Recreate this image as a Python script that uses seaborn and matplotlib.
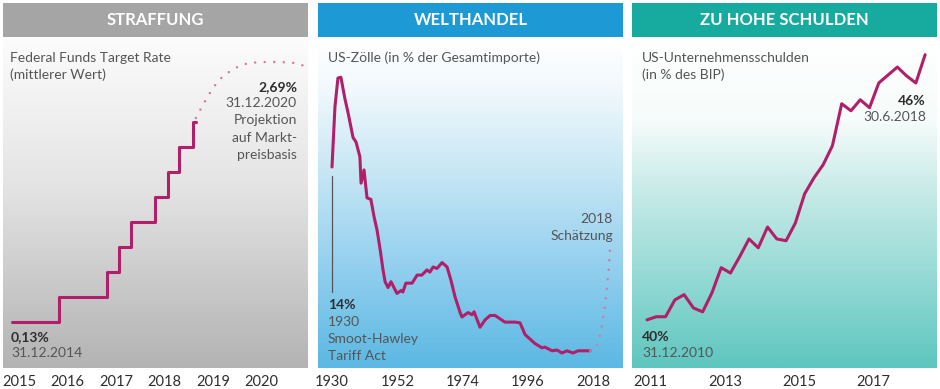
"""
Drei Risiko-Panels: Straffung, Welthandel, zu hohe Schulden.
"""

import matplotlib.pyplot as plt
import numpy as np
import seaborn as sns
from matplotlib.colors import LinearSegmentedColormap

# --- Daten -----------------------------------------------------------------

# Federal Funds Target Rate (Mittelwert), Stufen
fed_dates = [2015.0, 2015.96, 2016.96, 2017.2, 2017.45, 2017.95,
             2018.22, 2018.45, 2018.74, 2018.8]
fed_rates = [0.125, 0.375, 0.625, 0.875, 1.125, 1.375,
             1.625, 1.875, 2.125, 2.125]

# Projektion auf Marktpreisbasis
fed_proj_dates = [2018.79, 2018.96, 2019.14, 2019.35, 2019.6, 2019.87,
                  2020.18, 2020.53, 2020.84, 2021.0]
fed_proj_rates = [2.165, 2.315, 2.465, 2.585, 2.665, 2.715,
                  2.725, 2.725, 2.715, 2.69]

# US-Zölle in % der Gesamtimporte
tariff_years = [1930, 1931, 1932, 1933, 1934.4, 1935.4, 1937.1, 1938.1,
                1939.4, 1939.8, 1940.8, 1941.8, 1943.1, 1944.2, 1945.2,
                1946.3, 1947.2, 1947.9, 1948.9, 1949.9, 1951.9, 1953.3,
                1953.9, 1954.9, 1957.0, 1958.7, 1960.3, 1962.0, 1963.0,
                1964.1, 1965.4, 1967.1, 1968.8, 1970.1, 1971.5, 1973.2,
                1973.8, 1975.9, 1977.2, 1977.9, 1979.9, 1981.6, 1983.3,
                1985.0, 1988.3, 1991.7, 1993.4, 1995.1, 1998.4, 2000.8,
                2001.8, 2004.2, 2005.9, 2007.5, 2009.2, 2011.3, 2012.9,
                2017.0]
tariff_values = [14.0, 18.1, 20.05, 20.1, 18.6, 17.7, 16.0, 15.7,
                 14.7, 12.9, 13.8, 11.9, 11.8, 10.6, 9.7,
                 8.3, 7.0, 6.2, 5.8, 6.2, 5.4, 5.6,
                 5.5, 6.1, 6.1, 6.65, 6.65, 7.0, 6.85,
                 7.2, 7.1, 7.5, 7.2, 6.3, 5.15, 4.1,
                 3.8, 4.1, 3.95, 4.15, 3.1, 3.6, 3.9,
                 3.9, 3.45, 3.45, 3.4, 2.6, 2.0, 1.7,
                 1.75, 1.5, 1.55, 1.35, 1.5, 1.35, 1.5,
                 1.5]

# Schätzung 2018
tariff_est_years = [2017.0, 2019.3, 2020.4, 2021.3, 2022.0, 2022.7, 2023.3, 2023.7]
tariff_est_values = [1.5, 1.8, 2.6, 3.6, 4.5, 5.8, 7.1, 8.3]

# US-Unternehmensschulden in % des BIP, quartalsweise 31.12.2010 - 30.6.2018
debt_quarters = [2011.0 + 0.25 * i for i in range(31)]
debt_values = [40.0, 40.07, 40.07, 40.45, 40.57, 40.27, 40.18, 40.61,
               41.18, 41.06, 41.43, 41.83, 41.63, 42.1, 41.83, 41.79,
               42.19, 42.85, 43.21, 43.51, 43.94, 44.89, 44.73, 44.98,
               44.8, 45.36, 45.54, 45.72, 45.52, 45.36, 46.0]

fed_tick_labels = ["2015", "2016", "2017", "2018", "2019", "2020"]
tariff_tick_labels = ["1930", "1952", "1974", "1996", "2018"]
debt_tick_labels = ["2011", "2013", "2015", "2017"]

# --- Stil ------------------------------------------------------------------

FIG_W, FIG_H = 940, 389
LINE_COLOR = "#b01f69"
PROJ_COLOR = "#d678a3"
DARK = "#2e2e2e"
GREY_TEXT = "#555555"


def fig_box(left, top, right, bottom):
    """
    Pixel box -> figure fraction rect.
    """

    return [left / FIG_W, 1 - bottom / FIG_H,
            (right - left) / FIG_W, (bottom - top) / FIG_H]


def pixel_text(fig, x, y, text, **kwargs):
    """
    Text at pixel position.
    """

    fig.text(x / FIG_W, 1 - y / FIG_H, text, **kwargs)


def add_header(fig, left, right, title, color):
    """
    Coloured header bar with white caption.
    """

    header_axes = fig.add_axes(fig_box(left, 3, right, 37))
    header_axes.set_facecolor(color)
    header_axes.set_xticks([])
    header_axes.set_yticks([])
    for spine in header_axes.spines.values():
        spine.set_visible(False)
    header_axes.text(0.5, 0.5, title, color="white", fontsize=12,
                     fontweight="bold", ha="center", va="center",
                     transform=header_axes.transAxes)


def add_panel(fig, left, right, colors, stops):
    """
    Plot area with vertical gradient background.
    """

    ax = fig.add_axes(fig_box(left, 37, right, 368))
    cmap = LinearSegmentedColormap.from_list(
        "grad", list(zip(stops, colors)))
    gradient = np.linspace(0, 1, 256).reshape(-1, 1)
    ax.imshow(gradient, cmap=cmap, aspect="auto", extent=[0, 1, 0, 1],
              transform=ax.transAxes, zorder=0, origin="upper")
    for spine in ax.spines.values():
        spine.set_visible(False)
    ax.set_yticks([])
    ax.tick_params(axis="x", length=0, pad=5, labelsize=10.5,
                   labelcolor=DARK)
    ax.set_xlabel("")
    ax.set_ylabel("")
    ax.grid(False)
    return ax


def draw_fed_panel(fig):
    """
    Straffung: Federal Funds Target Rate.
    """

    add_header(fig, 3, 308, "STRAFFUNG", "#a5a5a5")
    ax = add_panel(fig, 3, 308,
                   ["#fcfcfc", "#e4e4e4", "#b3b3b3"], [0.0, 0.45, 1.0])

    sns.lineplot(x=fed_dates, y=fed_rates, ax=ax, color=LINE_COLOR,
                 linewidth=2.2, drawstyle="steps-post", zorder=3)
    sns.lineplot(x=fed_proj_dates, y=fed_proj_rates, ax=ax, color=PROJ_COLOR,
                 linewidth=1.8, linestyle=(0, (0.01, 3.8)),
                 dash_capstyle="round", zorder=3)

    ax.set_xlim(2014.814, 2021.103)
    ax.set_ylim(-0.335, 2.975)
    ax.set_xticks([int(y) + 0.15 for y in fed_tick_labels])
    ax.set_xticklabels(fed_tick_labels)

    pixel_text(fig, 10, 58, "Federal Funds Target Rate", fontsize=10,
               color=GREY_TEXT, va="center")
    pixel_text(fig, 10, 75, "(mittlerer Wert)", fontsize=10,
               color=GREY_TEXT, va="center")
    pixel_text(fig, 297, 87, "2,69%", fontsize=10, fontweight="bold",
               color=DARK, va="center", ha="right")
    for y_pos, line in zip([103, 120, 138, 155],
                           ["31.12.2020", "Projektion", "auf Markt-",
                            "preisbasis"]):
        pixel_text(fig, 297, y_pos, line, fontsize=10, color=GREY_TEXT,
                   va="center", ha="right")
    pixel_text(fig, 11, 337, "0,13%", fontsize=10, fontweight="bold",
               color=DARK, va="center")
    pixel_text(fig, 11, 353, "31.12.2014", fontsize=10, color=GREY_TEXT,
               va="center")


def draw_tariff_panel(fig):
    """
    Welthandel: US-Zölle.
    """

    add_header(fig, 318, 623, "WELTHANDEL", "#1d9ad6")
    ax = add_panel(fig, 318, 623,
                   ["#ffffff", "#f2f9fd", "#c8e7f5", "#92cfee", "#5bb8e3"],
                   [0.0, 0.15, 0.4, 0.7, 1.0])

    sns.lineplot(x=tariff_years, y=tariff_values, ax=ax, color=LINE_COLOR,
                 linewidth=2.2, zorder=3)
    sns.lineplot(x=tariff_est_years, y=tariff_est_values, ax=ax,
                 color=PROJ_COLOR, linewidth=1.8,
                 linestyle=(0, (0.01, 3.8)), dash_capstyle="round", zorder=3)
    ax.plot([1930, 1930], [13.4, 5.5], color="#555555", linewidth=0.9,
            zorder=2)

    ax.set_xlim(1925.28, 2028.11)
    ax.set_ylim(0.33, 22.84)
    ax.set_xticks([int(y) for y in tariff_tick_labels])
    ax.set_xticklabels(tariff_tick_labels)

    pixel_text(fig, 328, 58, "US-Zölle (in % der Gesamtimporte)",
               fontsize=10, color=GREY_TEXT, va="center")
    pixel_text(fig, 328, 305, "14%", fontsize=10, fontweight="bold",
               color=DARK, va="center")
    for y_pos, line in zip([322, 339, 356],
                           ["1930", "Smoot-Hawley", "Tariff Act"]):
        pixel_text(fig, 328, y_pos, line, fontsize=10, color=GREY_TEXT,
                   va="center")
    pixel_text(fig, 613, 219, "2018", fontsize=10, color=GREY_TEXT,
               va="center", ha="right")
    pixel_text(fig, 613, 236, "Schätzung", fontsize=10, color=GREY_TEXT,
               va="center", ha="right")


def draw_debt_panel(fig):
    """
    Zu hohe Schulden: US-Unternehmensschulden.
    """

    add_header(fig, 632, 937, "ZU HOHE SCHULDEN", "#17aba0")
    ax = add_panel(fig, 632, 937,
                   ["#ffffff", "#f6fcfb", "#c6eae7", "#90d8d3", "#5ec6bf"],
                   [0.0, 0.25, 0.47, 0.75, 1.0])

    sns.lineplot(x=debt_quarters, y=debt_values, ax=ax, color=LINE_COLOR,
                 linewidth=2.2, zorder=3)

    ax.set_xlim(2010.595, 2018.82)
    ax.set_ylim(38.91, 46.40)
    ax.set_xticks([int(y) + 0.1 for y in debt_tick_labels])
    ax.set_xticklabels(debt_tick_labels)

    pixel_text(fig, 642, 58, "US-Unternehmensschulden", fontsize=10,
               color=GREY_TEXT, va="center")
    pixel_text(fig, 642, 75, "(in % des BIP)", fontsize=10,
               color=GREY_TEXT, va="center")
    pixel_text(fig, 926, 101, "46%", fontsize=10, fontweight="bold",
               color=DARK, va="center", ha="right")
    pixel_text(fig, 926, 117, "30.6.2018", fontsize=10, color=GREY_TEXT,
               va="center", ha="right")
    pixel_text(fig, 642, 337, "40%", fontsize=10, fontweight="bold",
               color=DARK, va="center")
    pixel_text(fig, 642, 353, "31.12.2010", fontsize=10, color=GREY_TEXT,
               va="center")


def main() -> None:
    """
    Build and save the figure.
    """

    sns.set_style("white")
    plt.rcParams["font.family"] = ["Lato", "DejaVu Sans"]

    fig = plt.figure(figsize=(9.4, 3.89), dpi=100)
    fig.patch.set_facecolor("white")

    draw_fed_panel(fig)
    draw_tariff_panel(fig)
    draw_debt_panel(fig)

    fig.savefig("out.png", dpi=100)


if __name__ == "__main__":
    main()
